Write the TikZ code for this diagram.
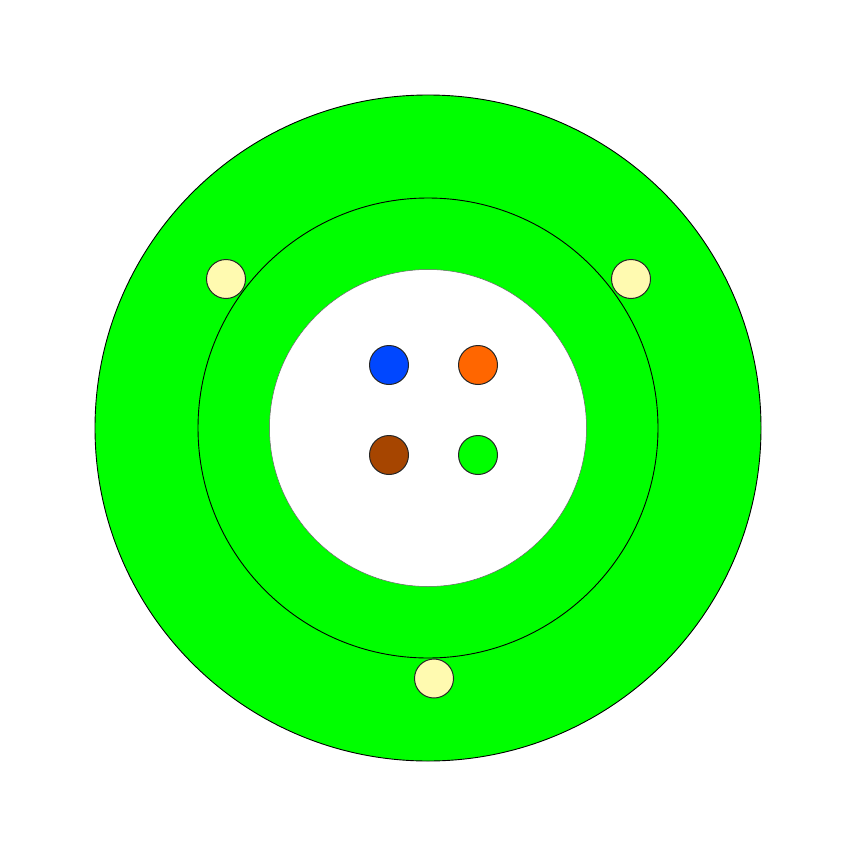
\documentclass[tikz,border=0pt]{standalone}
\begin{document}
\begin{tikzpicture}[x=1pt,y=-1pt,
  ring/.style={draw=black,line width=0.9pt,fill=brightgreen},
  dot/.style={circle,draw=black!85,line width=1pt,minimum size=39pt,inner sep=0pt}]
\definecolor{brightgreen}{HTML}{00FF00}
\definecolor{dblue}{HTML}{0047FF}
\definecolor{dorange}{HTML}{FF6600}
\definecolor{dbrown}{HTML}{A64500}
\definecolor{dyellow}{HTML}{FFFAB0}
\useasboundingbox (0,0) rectangle (856,856);
\fill[white] (0,0) rectangle (856,856);
\draw[ring] (428,428) circle (333);
\draw[ring] (428,428) circle (230);
\draw[fill=white,draw=black!60,line width=0.5pt] (428,428) circle (158.5);
\node[dot,fill=dblue] (blue) at (389,365) {};
\node[dot,fill=dorange] (orange) at (478,365) {};
\node[dot,fill=dbrown] (brown) at (389,455) {};
\node[dot,fill=brightgreen] (green) at (478,455) {};
\node[dot,fill=dyellow] (y1) at (226,279) {};
\node[dot,fill=dyellow] (y2) at (631,279) {};
\node[dot,fill=dyellow] (y3) at (434,678.5) {};
\end{tikzpicture}
\end{document}
